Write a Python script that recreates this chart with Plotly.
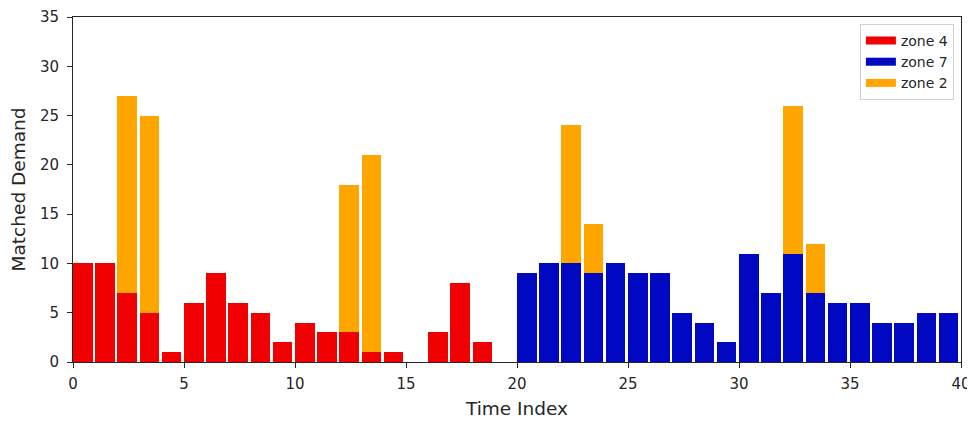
import plotly.graph_objects as go

time_index = list(range(40))
zone4 = [10, 10, 7, 5, 1, 6, 9, 6, 5, 2, 4, 3, 3, 1, 1, 0, 3, 8, 2, 0,
         0, 0, 0, 0, 0, 0, 0, 0, 0, 0, 0, 0, 0, 0, 0, 0, 0, 0, 0, 0]
zone7 = [0, 0, 0, 0, 0, 0, 0, 0, 0, 0, 0, 0, 0, 0, 0, 0, 0, 0, 0, 0,
         9, 10, 10, 9, 10, 9, 9, 5, 4, 2, 11, 7, 11, 7, 6, 6, 4, 4, 5, 5]
zone2 = [0, 0, 20, 20, 0, 0, 0, 0, 0, 0, 0, 0, 15, 20, 0, 0, 0, 0, 0, 0,
         0, 0, 14, 5, 0, 0, 0, 0, 0, 0, 0, 0, 15, 5, 0, 0, 0, 0, 0, 0]
x_ticks = [0, 5, 10, 15, 20, 25, 30, 35, 40]
y_ticks = [0, 5, 10, 15, 20, 25, 30, 35]

series = [("zone 4", zone4, "#f00000"), ("zone 7", zone7, "#0008c2"), ("zone 2", zone2, "#ffa500")]

fig = go.Figure()
for name, vals, col in series:
    fig.add_trace(go.Bar(x=time_index, y=vals, name=name, offset=0, width=0.88,
                         marker=dict(color=col, line=dict(width=0)), showlegend=False))
# legend entries drawn as wide rectangles (like matplotlib patches)
for name, vals, col in series:
    fig.add_trace(go.Scatter(x=[None], y=[None], mode="lines", name=name,
                             line=dict(color=col, width=8)))

fig.update_layout(
    barmode="stack",
    width=967, height=413,
    margin=dict(l=65, r=14, t=9, b=59),
    plot_bgcolor="white", paper_bgcolor="white",
    font=dict(family="DejaVu Sans", size=15, color="#262626"),
    legend=dict(x=0.992, y=0.98, xanchor="right", yanchor="top",
                traceorder="normal",
                bgcolor="rgba(255,255,255,0.9)", bordercolor="#d0d0d0", borderwidth=1,
                font=dict(size=14), tracegroupgap=0, itemwidth=30),
    xaxis=dict(range=[0, 40], tickmode="array", tickvals=x_ticks, ticks="outside",
               ticklen=5, tickcolor="#262626", showgrid=False, zeroline=False,
               showline=True, linecolor="#262626", linewidth=1, mirror=True,
               automargin=False, ticklabelstandoff=3,
               title=dict(text="Time Index", font=dict(size=18.5), standoff=10),
               tickfont=dict(size=15)),
    yaxis=dict(range=[0, 35], tickmode="array", tickvals=y_ticks, ticks="outside",
               ticklen=5, tickcolor="#262626", showgrid=False, zeroline=False,
               showline=True, linecolor="#262626", linewidth=1, mirror=True,
               automargin=False, ticklabelstandoff=5,
               title=dict(text="Matched Demand", font=dict(size=18.5), standoff=12),
               tickfont=dict(size=15)),
)

fig.write_html("out.html")
